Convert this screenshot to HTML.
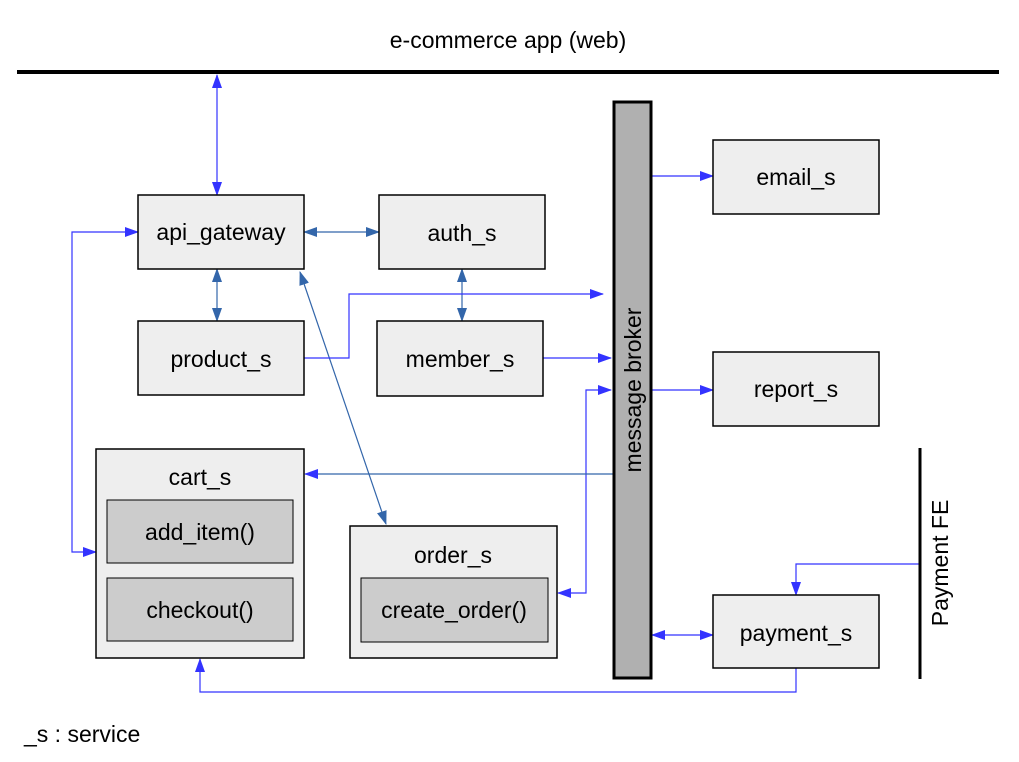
<!DOCTYPE html>
<html><head><meta charset="utf-8"><style>
html,body{margin:0;padding:0;background:#fff}
svg{display:block}
text{font-family:"Liberation Sans",sans-serif;fill:#000}
</style></head><body>
<svg width="1019" height="762" viewBox="0 0 1019 762">
<defs>
<marker id="b" markerWidth="14" markerHeight="10" refX="13" refY="5" orient="auto-start-reverse" markerUnits="userSpaceOnUse"><path d="M0,0 L14,5 L0,10 z" fill="#3333ff"/></marker>
<marker id="s" markerWidth="14" markerHeight="10" refX="13" refY="5" orient="auto-start-reverse" markerUnits="userSpaceOnUse"><path d="M0,0 L14,5 L0,10 z" fill="#3366aa"/></marker>
</defs>
<text x="508" y="48" font-size="23" text-anchor="middle">e-commerce app (web)</text>
<line x1="17" y1="72" x2="999" y2="72" stroke="#000" stroke-width="4"/>
<text x="24" y="742" font-size="23">_s : service</text>

<g fill="none" stroke-width="1.2">
<line x1="217" y1="75" x2="217" y2="195" stroke="#3333ff" marker-start="url(#b)" marker-end="url(#b)"/>
<line x1="304" y1="232" x2="379" y2="232" stroke="#3366aa" marker-start="url(#s)" marker-end="url(#s)"/>
<line x1="217" y1="269" x2="217" y2="321" stroke="#3366aa" marker-start="url(#s)" marker-end="url(#s)"/>
<line x1="462" y1="269" x2="462" y2="321" stroke="#3366aa" marker-start="url(#s)" marker-end="url(#s)"/>
<line x1="300" y1="272" x2="386" y2="524" stroke="#3366aa" marker-start="url(#s)" marker-end="url(#s)"/>
<polyline points="96,552 72,552 72,232 138,232" stroke="#3333ff" marker-start="url(#b)" marker-end="url(#b)"/>
<polyline points="304,358 349,358 349,294 603,294" stroke="#3333ff" marker-end="url(#b)"/>
<line x1="543" y1="358" x2="611" y2="358" stroke="#3333ff" marker-end="url(#b)"/>
<polyline points="558,593 586,593 586,390 611,390" stroke="#3333ff" marker-start="url(#b)" marker-end="url(#b)"/>
<line x1="613" y1="474" x2="305" y2="474" stroke="#3366aa" marker-end="url(#b)"/>
<line x1="651" y1="176" x2="713" y2="176" stroke="#3333ff" marker-end="url(#b)"/>
<line x1="651" y1="390" x2="713" y2="390" stroke="#3333ff" marker-end="url(#b)"/>
<line x1="652" y1="635" x2="713" y2="635" stroke="#3333ff" marker-start="url(#b)" marker-end="url(#b)"/>
<polyline points="920,564 796,564 796,595" stroke="#3333ff" marker-end="url(#b)"/>
<polyline points="796,668 796,692 200,692 200,659" stroke="#3333ff" marker-end="url(#b)"/>
</g>

<g stroke="#000" stroke-width="1.5" fill="#eeeeee">
<rect x="138" y="195" width="166" height="74"/>
<rect x="379" y="195" width="166" height="74"/>
<rect x="138" y="321" width="166" height="74"/>
<rect x="377" y="321" width="166" height="75"/>
<rect x="96" y="449" width="208" height="209"/>
<rect x="107" y="500" width="186" height="63" fill="#cccccc" stroke-width="1"/>
<rect x="107" y="578" width="186" height="63" fill="#cccccc" stroke-width="1"/>
<rect x="350" y="526" width="207" height="132"/>
<rect x="361" y="578" width="187" height="64" fill="#cccccc" stroke-width="1"/>
<rect x="713" y="140" width="166" height="74"/>
<rect x="713" y="352" width="166" height="74"/>
<rect x="713" y="595" width="166" height="73"/>
<rect x="614" y="102" width="37" height="576" fill="#b0b0b0" stroke-width="3"/>
</g>
<line x1="920" y1="448" x2="920" y2="679" stroke="#000" stroke-width="3"/>

<g font-size="23" text-anchor="middle">
<text x="221" y="240">api_gateway</text>
<text x="462" y="241">auth_s</text>
<text x="221" y="367">product_s</text>
<text x="460" y="367">member_s</text>
<text x="200" y="485">cart_s</text>
<text x="200" y="540">add_item()</text>
<text x="200" y="618">checkout()</text>
<text x="453" y="563">order_s</text>
<text x="454" y="618">create_order()</text>
<text x="796" y="185">email_s</text>
<text x="796" y="397">report_s</text>
<text x="796" y="641">payment_s</text>
<text transform="translate(641,390) rotate(-90)">message broker</text>
<text transform="translate(948,563) rotate(-90)">Payment FE</text>
</g>
</svg>
</body></html>
